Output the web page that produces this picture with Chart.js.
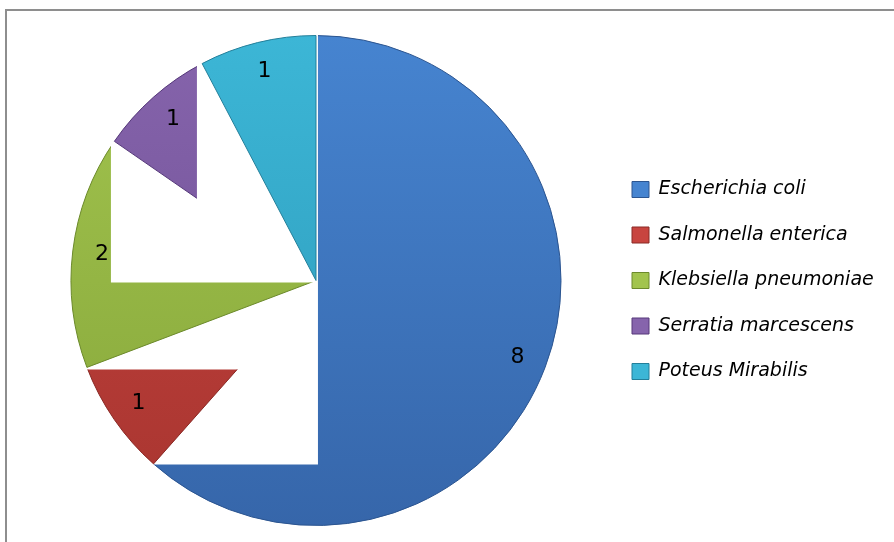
<!DOCTYPE html>
<html>
<head>
<meta charset="utf-8">
<script src="https://cdn.jsdelivr.net/npm/chart.js@4"></script>
<style>
  body { margin: 0; background: #fff; }
  #marco { position: absolute; left: 5px; top: 9px; width: 900px; height: 540px; border: 2px solid #8e8e8e; }
  #grafico { position: absolute; left: 0; top: 0; }
</style>
</head>
<body>
<div id="marco"></div>
<canvas id="grafico" width="894" height="542"></canvas>
<script>
// Aislamientos por especie
const especies = ["Escherichia coli", "Salmonella enterica", "Klebsiella pneumoniae", "Serratia marcescens", "Poteus Mirabilis"];
const aislados = [8, 1, 2, 1, 1];

// Colores (arriba claro, abajo oscuro) y borde de cada sector
const coloresClaros = ["#4684d0", "#c8443f", "#a2c44e", "#8664ac", "#3cb6d6"];
const coloresOscuros = ["#3666aa", "#a83530", "#86a63a", "#6a4c90", "#2c98b8"];
const coloresBorde = ["#2c5590", "#8a2a26", "#6c8a2c", "#56397a", "#237f9a"];

// Zonas que quedan en blanco en cada sector (en fracciones del radio, relativas al centro)
const huecos = [
    [[-1.2, -1.2, 0.008, 0.751]],
    [[-1.2, -1.2, 1.2, 0.363]],
    [[-0.837, -1.2, 1.2, 0.008]],
    [[-1.2, -1.2, -0.837, 1.2], [-0.486, -1.2, 1.2, 1.2]],
    []
];

function degradado(context) {
    const i = context.dataIndex;
    const {ctx, chartArea} = context.chart;
    if (!chartArea) return coloresClaros[i];
    const g = ctx.createLinearGradient(0, chartArea.top, 0, chartArea.bottom);
    g.addColorStop(0, coloresClaros[i]);
    g.addColorStop(1, coloresOscuros[i]);
    return g;
}

// Dibuja cada sector recortado por sus huecos
const sectoresRecortados = {
    id: "sectoresRecortados",
    beforeDatasetDraw(chart, args) {
        const ctx = chart.ctx;
        const meta = args.meta;
        meta.data.forEach((arc, i) => {
            const r = arc.outerRadius;
            ctx.save();
            ctx.beginPath();
            ctx.rect(0, 0, chart.width, chart.height);
            huecos[i].forEach(h => {
                const x0 = arc.x + h[0] * r, y0 = arc.y + h[1] * r;
                const x1 = arc.x + h[2] * r, y1 = arc.y + h[3] * r;
                ctx.rect(x0, y0, x1 - x0, y1 - y0);
            });
            ctx.clip("evenodd");
            arc.draw(ctx);
            ctx.restore();
        });
        return false;
    }
};

// Valores encima de cada sector
const etiquetasValor = {
    id: "etiquetasValor",
    afterDatasetsDraw(chart) {
        const ctx = chart.ctx;
        const meta = chart.getDatasetMeta(0);
        ctx.save();
        ctx.font = '22px "DejaVu Sans"';
        ctx.fillStyle = "#000";
        ctx.textAlign = "center";
        ctx.textBaseline = "middle";
        meta.data.forEach((arc, i) => {
            const a = (arc.startAngle + arc.endAngle) / 2;
            const rr = arc.outerRadius * 0.88;
            ctx.fillText(String(aislados[i]), arc.x + Math.cos(a) * rr, arc.y + Math.sin(a) * rr);
        });
        ctx.restore();
    }
};

new Chart(document.getElementById("grafico"), {
    type: "pie",
    data: {
        labels: especies,
        datasets: [{
            data: aislados,
            backgroundColor: degradado,
            borderColor: coloresBorde,
            borderWidth: 1
        }]
    },
    options: {
        responsive: false,
        animation: false,
        layout: { padding: { left: 26.5, right: 16.5, top: 35, bottom: 16 } },
        plugins: {
            tooltip: { enabled: false },
            legend: {
                position: "right",
                maxWidth: 272,
                labels: {
                    boxWidth: 17,
                    boxHeight: 16,
                    padding: 26.5,
                    color: "#000",
                    font: { family: "DejaVu Sans", size: 19, style: "italic" },
                    generateLabels: () => especies.map((nombre, i) => ({
                        text: nombre,
                        fillStyle: coloresClaros[i],
                        strokeStyle: coloresBorde[i],
                        lineWidth: 1,
                        fontColor: "#000",
                        hidden: false,
                        index: i
                    }))
                }
            }
        }
    },
    plugins: [sectoresRecortados, etiquetasValor]
});
</script>
</body>
</html>
